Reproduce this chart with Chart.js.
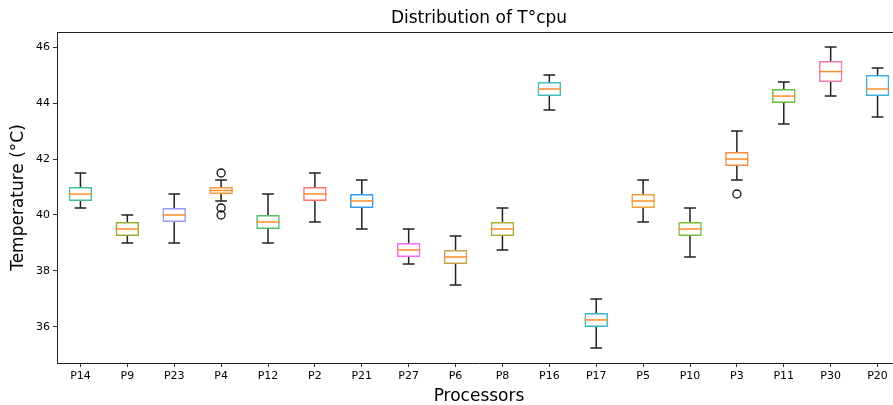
<!DOCTYPE html>
<html>
<head>
<meta charset="utf-8">
<script src="https://cdn.jsdelivr.net/npm/chart.js@4.4.0/dist/chart.umd.min.js"></script>
<style>
  html, body { margin: 0; padding: 0; background: #fff; overflow: hidden; }
  #wrap { width: 893px; height: 405px; overflow: hidden; }
</style>
</head>
<body>
<div id="wrap"><canvas id="chart" width="957" height="405"></canvas></div>
<script>
// processors, in plotted order
const processors = ["P14", "P9", "P23", "P4", "P12", "P2", "P21", "P27", "P6",
  "P8", "P16", "P17", "P5", "P10", "P3", "P11", "P30", "P20"];

// box plot statistics (°C)
const whiskerLow = [40.25, 39, 39, 40.5, 39, 39.75, 39.5, 38.25, 37.5,
  38.75, 43.75, 35.25, 39.75, 38.5, 41.25, 43.25, 44.25, 43.5];
const q1 = [40.5, 39.25, 39.75, 40.75, 39.5, 40.5, 40.25, 38.5, 38.25,
  39.25, 44.25, 36, 40.25, 39.25, 41.75, 44, 44.75, 44.25];
const median = [40.75, 39.5, 40, 40.875, 39.75, 40.75, 40.5, 38.75, 38.5,
  39.5, 44.5, 36.25, 40.5, 39.5, 42, 44.25, 45.125, 44.5];
const q3 = [41, 39.75, 40.25, 41, 40, 41, 40.75, 39, 38.75,
  39.75, 44.75, 36.5, 40.75, 39.75, 42.25, 44.5, 45.5, 45];
const whiskerHigh = [41.5, 40, 40.75, 41.25, 40.75, 41.5, 41.25, 39.5, 39.25,
  40.25, 45, 37, 41.25, 40.25, 43, 44.75, 46, 45.25];

// flier points
const outlierCats = ["P4", "P4", "P4", "P3"];
const outlierVals = [41.5, 40.25, 40, 40.75];

const yTicks = [36, 38, 40, 42, 44, 46];

const boxColors = ["#45c098", "#9aab30", "#9b9bff", "#f59a3a", "#4fbd6a", "#f8766d",
  "#3399ea", "#f26bf0", "#c9a24a", "#b2ac3a", "#40c0b8", "#35b8c0", "#f0a030",
  "#7cbf3a", "#fa8a3c", "#66bb3c", "#f07ab0", "#40aee0"];

const FONT = "'DejaVu Sans', sans-serif";

const boxPlugin = {
  id: "boxParts",
  afterDatasetsDraw(chart) {
    const ctx = chart.ctx;
    const x = chart.scales.x, y = chart.scales.y;
    const bars = chart.getDatasetMeta(0).data;
    ctx.save();
    ctx.lineWidth = 1.5;
    processors.forEach((p, i) => {
      const cx = x.getPixelForValue(i);
      const half = bars[i].width / 2;
      const cap = half / 2;
      ctx.strokeStyle = "#222";
      ctx.beginPath();
      ctx.moveTo(cx, y.getPixelForValue(q3[i]));
      ctx.lineTo(cx, y.getPixelForValue(whiskerHigh[i]));
      ctx.moveTo(cx, y.getPixelForValue(q1[i]));
      ctx.lineTo(cx, y.getPixelForValue(whiskerLow[i]));
      ctx.moveTo(cx - cap, y.getPixelForValue(whiskerHigh[i]));
      ctx.lineTo(cx + cap, y.getPixelForValue(whiskerHigh[i]));
      ctx.moveTo(cx - cap, y.getPixelForValue(whiskerLow[i]));
      ctx.lineTo(cx + cap, y.getPixelForValue(whiskerLow[i]));
      ctx.stroke();
      ctx.strokeStyle = "#ff8c2a";
      ctx.beginPath();
      ctx.moveTo(cx - half, y.getPixelForValue(median[i]));
      ctx.lineTo(cx + half, y.getPixelForValue(median[i]));
      ctx.stroke();
    });
    // frame top / right
    const a = chart.chartArea;
    ctx.strokeStyle = "#222";
    ctx.lineWidth = 1;
    ctx.beginPath();
    ctx.moveTo(a.left, a.top + 0.5);
    ctx.lineTo(a.right, a.top + 0.5);
    ctx.lineTo(a.right, a.bottom);
    ctx.stroke();
    ctx.restore();
  }
};

new Chart(document.getElementById("chart"), {
  type: "bar",
  data: {
    labels: processors,
    datasets: [
      {
        label: "box",
        data: processors.map((p, i) => [q1[i], q3[i]]),
        backgroundColor: "rgba(255,255,255,0)",
        borderColor: boxColors,
        borderWidth: 1.5,
        borderSkipped: false,
        barPercentage: 0.5,
        categoryPercentage: 1.0,
      },
      {
        type: "scatter",
        label: "fliers",
        data: outlierCats.map((c, i) => ({ x: c, y: outlierVals[i] })),
        pointRadius: 4,
        pointBorderColor: "#111",
        pointBackgroundColor: "rgba(255,255,255,0)",
        pointBorderWidth: 1.3,
      },
    ],
  },
  options: {
    responsive: false,
    animation: false,
    layout: { padding: { left: 0, right: 56, top: 0, bottom: 0 } },
    plugins: {
      legend: { display: false },
      tooltip: { enabled: false },
      title: {
        display: true,
        fullSize: false,
        text: "Distribution of T°cpu",
        color: "#000",
        font: { family: FONT, size: 17, weight: "normal" },
        padding: { top: 8, bottom: 3.6 },
      },
    },
    scales: {
      x: {
        type: "category",
        offset: true,
        afterFit: (s) => { s.height = 42; },
        grid: { offset: false, drawOnChartArea: false, tickLength: 4, color: "#333" },
        border: { display: true, color: "#222", width: 1 },
        ticks: { color: "#000", font: { family: FONT, size: 11 }, padding: 3, maxRotation: 0, autoSkip: false },
        title: {
          display: true,
          text: "Processors",
          color: "#000",
          font: { family: FONT, size: 17, lineHeight: 1.0 },
          padding: { top: 0, bottom: 0 },
        },
      },
      y: {
        min: 34.71,
        max: 46.54,
        afterBuildTicks: (s) => { s.ticks = yTicks.map((v) => ({ value: v })); },
        afterFit: (s) => { s.width = 57; },
        grid: { drawOnChartArea: false, tickLength: 4, color: "#333" },
        border: { display: true, color: "#222", width: 1 },
        ticks: { color: "#000", font: { family: FONT, size: 11 }, padding: 3 },
        title: {
          display: true,
          text: "Temperature (°C)",
          color: "#000",
          font: { family: FONT, size: 17 },
          padding: { top: 8, bottom: 0 },
        },
      },
    },
  },
  plugins: [boxPlugin],
});
</script>
</body>
</html>
